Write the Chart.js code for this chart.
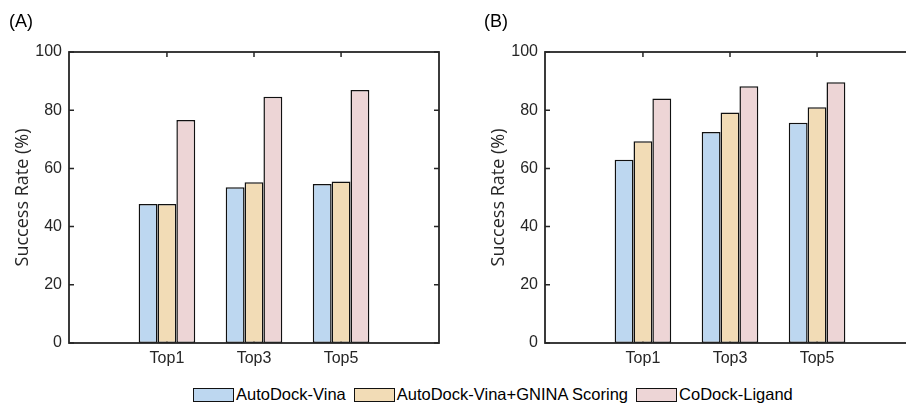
<!DOCTYPE html>
<html>
<head>
<meta charset="utf-8">
<script src="https://cdn.jsdelivr.net/npm/chart.js@4.4.1/dist/chart.umd.min.js"></script>
<style>
  html, body { margin: 0; padding: 0; background: #fff; overflow: hidden; width: 906px; height: 406px; }
  .panel { position: absolute; top: 0; height: 375px; }
  .tag { position: absolute; top: 12px; font: 18px "Liberation Sans", Arial, sans-serif; color: #000; line-height: 1; }
  #legend { position: absolute; left: 193px; top: 387px; display: flex; align-items: center;
            font: 16.5px "Liberation Sans", Arial, sans-serif; color: #000; line-height: 15px; }
  #legend .item { display: flex; align-items: center; margin-right: 8px; }
  #legend .box { width: 39px; height: 12px; border: 1.5px solid #111; margin-right: 2px; }
</style>
</head>
<body>
<div class="panel" style="left:0;width:450px"><canvas id="chartA"></canvas></div>
<div class="panel" style="left:456px;width:470px"><canvas id="chartB"></canvas></div>
<div class="tag" style="left:9px">(A)</div>
<div class="tag" style="left:484px">(B)</div>
<div id="legend"></div>
<script>
const categories = ['Top1', 'Top3', 'Top5'];
const seriesNames = ['AutoDock-Vina', 'AutoDock-Vina+GNINA Scoring', 'CoDock-Ligand'];
const seriesColors = ['#bdd7f0', '#f2dcb6', '#edd5d6'];

// panel A
const vinaA = [47.8, 53.5, 54.6];
const gninaA = [47.8, 55.2, 55.5];
const codockA = [76.6, 84.6, 86.9];

// panel B
const vinaB = [63.0, 72.5, 75.7];
const gninaB = [69.3, 79.2, 81.0];
const codockB = [84.0, 88.2, 89.6];

const yMin = 0, yMax = 100, yStep = 20;

const axisColor = '#262626';

// box + inward ticks, matlab style
const framePlugin = {
    id: 'frame',
    beforeDatasetsDraw(chart) {
        const { ctx, chartArea: a, scales: { x, y } } = chart;
        ctx.save();
        ctx.strokeStyle = axisColor;
        ctx.lineWidth = 1.5;
        ctx.beginPath();
        y.ticks.forEach(t => {
            const py = y.getPixelForValue(t.value);
            ctx.moveTo(a.left, py); ctx.lineTo(a.left + 5, py);
            ctx.moveTo(a.right, py); ctx.lineTo(a.right - 5, py);
        });
        x.ticks.forEach(t => {
            const px = x.getPixelForValue(t.value);
            ctx.moveTo(px, a.top); ctx.lineTo(px, a.top + 5);
            ctx.moveTo(px, a.bottom); ctx.lineTo(px, a.bottom - 5);
        });
        ctx.stroke();
        ctx.restore();
    },
    afterDatasetsDraw(chart) {
        const { ctx, chartArea: a } = chart;
        ctx.save();
        ctx.strokeStyle = axisColor;
        ctx.lineWidth = 1.8;
        ctx.strokeRect(a.left, a.top, a.right - a.left, a.bottom - a.top);
        ctx.restore();
    },
};

function makePanel(id, data, yAxisWidth, titlePad) {
    const canvas = document.getElementById(id);
    new Chart(canvas, {
        type: 'bar',
        data: {
            datasets: data.map((vals, i) => ({
                label: seriesNames[i],
                data: vals.map((v, k) => ({ x: k, y: v })),
                backgroundColor: seriesColors[i],
                borderColor: '#111',
                borderWidth: 1.5,
                borderSkipped: false,
                barPercentage: 1.0,
                categoryPercentage: 0.65,
            })),
        },
        options: {
            responsive: true,
            maintainAspectRatio: false,
            animation: false,
            layout: { padding: { top: 52, right: 11, left: 0, bottom: 0 } },
            plugins: {
                legend: { display: false },
                tooltip: { enabled: false },
            },
            scales: {
                x: {
                    type: 'linear',
                    offset: false,
                    min: -1.125,
                    max: categories.length - 1 + 1.125,
                    grid: { display: false, drawTicks: false },
                    border: { display: false },
                    afterBuildTicks: (scale) => {
                        scale.ticks = categories.map((c, k) => ({ value: k }));
                    },
                    afterFit: (scale) => { scale.height = 32; },
                    ticks: {
                        padding: 6,
                        color: axisColor,
                        font: { family: 'Liberation Sans, Arial, sans-serif', size: 16 },
                        callback: (v) => categories[v],
                    },
                },
                y: {
                    min: yMin,
                    max: yMax,
                    grid: { display: false, drawTicks: false },
                    border: { display: false },
                    afterFit: (scale) => { scale.width = yAxisWidth; },
                    ticks: {
                        stepSize: yStep,
                        padding: 7,
                        color: axisColor,
                        font: { family: 'Liberation Sans, Arial, sans-serif', size: 16 },
                    },
                    title: {
                        display: true,
                        text: 'Success Rate (%)',
                        color: axisColor,
                        padding: { top: titlePad, bottom: 0 },
                        font: { family: 'Open Sans, sans-serif', size: 18 },
                    },
                },
            },
        },
        plugins: [framePlugin],
    });
}

makePanel('chartA', [vinaA, gninaA, codockA], 69, 12);
makePanel('chartB', [vinaB, gninaB, codockB], 89, 32);

const legend = document.getElementById('legend');
seriesNames.forEach((name, i) => {
    const item = document.createElement('div');
    item.className = 'item';
    const box = document.createElement('span');
    box.className = 'box';
    box.style.background = seriesColors[i];
    const txt = document.createElement('span');
    txt.textContent = name;
    item.appendChild(box);
    item.appendChild(txt);
    legend.appendChild(item);
});
</script>
</body>
</html>
